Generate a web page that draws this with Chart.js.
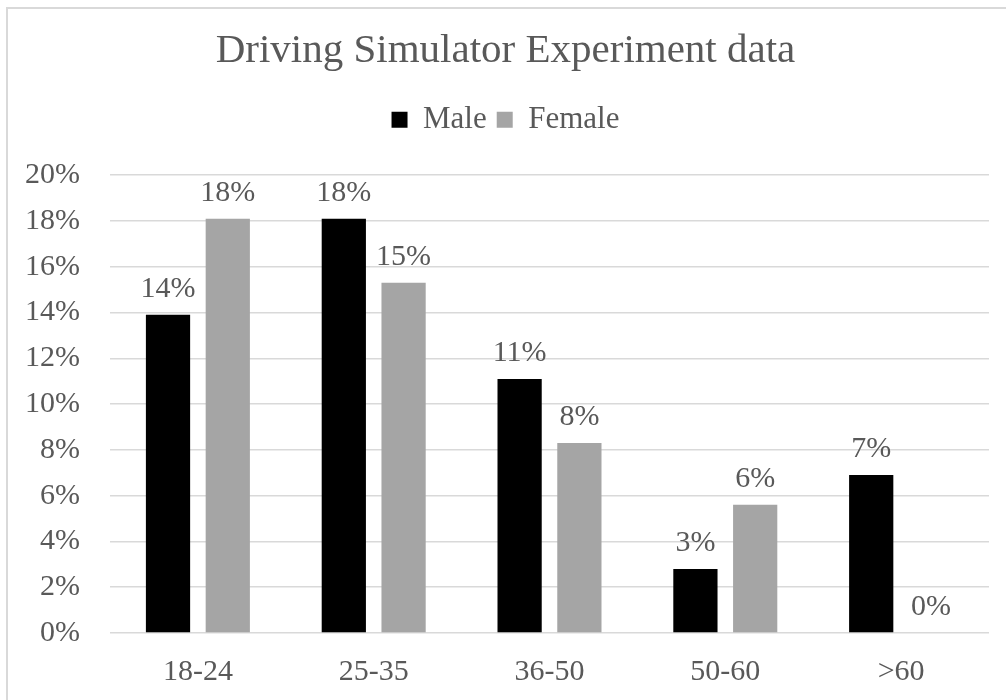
<!DOCTYPE html>
<html>
<head>
<meta charset="utf-8">
<title>Driving Simulator Experiment data</title>
<script src="https://cdn.jsdelivr.net/npm/chart.js@4.4.0/dist/chart.umd.min.js"></script>
<style>
  html, body { margin: 0; padding: 0; background: #fff; overflow: hidden; }
  #frame {
    position: absolute;
    left: 6px;
    top: 7px;
    width: 1004px;
    height: 691px;
    border: 2px solid #d9d9d9;
  }
</style>
</head>
<body>
<div id="frame"><canvas id="ageChart"></canvas></div>
<script>
// share of participants per age group, in percent
const ageGroups = ['18-24', '25-35', '36-50', '50-60', '>60'];
const malePct = [13.9, 18.1, 11.1, 2.8, 6.9];
const femalePct = [18.1, 15.3, 8.3, 5.6, 0];
const yMax = 20;
const yStep = 2;

const textGray = '#595959';
const gridGray = '#d9d9d9';
const serif = "'Liberation Serif', 'Times New Roman', serif";

Chart.defaults.font.family = serif;
Chart.defaults.color = textGray;

// writes the rounded percentage above each bar
const barValueLabels = {
    id: 'barValueLabels',
    afterDatasetsDraw(chart) {
        const ctx = chart.ctx;
        ctx.save();
        ctx.font = '30px ' + serif;
        ctx.fillStyle = textGray;
        ctx.textAlign = 'center';
        ctx.textBaseline = 'alphabetic';
        chart.data.datasets.forEach((ds, i) => {
            chart.getDatasetMeta(i).data.forEach((bar, j) => {
                ctx.fillText(Math.round(ds.data[j]) + '%', bar.x, bar.y - 18);
            });
        });
        ctx.restore();
    }
};

new Chart(document.getElementById('ageChart'), {
    type: 'bar',
    data: {
        labels: ageGroups,
        datasets: [
            { label: 'Male', data: malePct, backgroundColor: '#000000' },
            { label: 'Female', data: femalePct, backgroundColor: '#a5a5a5' }
        ]
    },
    options: {
        responsive: true,
        maintainAspectRatio: false,
        animation: false,
        layout: { padding: { left: 14, right: 23, top: 0, bottom: 0 } },
        datasets: {
            bar: { categoryPercentage: 0.68, barPercentage: 0.74, borderWidth: 0 }
        },
        plugins: {
            title: {
                display: true,
                text: 'Driving Simulator Experiment data',
                color: textGray,
                font: { size: 41, weight: 'normal', lineHeight: 1.2 },
                padding: { top: 18, bottom: 18 }
            },
            // empty spacer between the legend and the plot
            subtitle: {
                display: true,
                text: '',
                weight: 500,
                font: { size: 1, lineHeight: 1 },
                padding: { top: 29, bottom: 0 }
            },
            legend: {
                position: 'top',
                labels: {
                    boxWidth: 16,
                    boxHeight: 16,
                    padding: 10,
                    color: textGray,
                    font: { size: 31 }
                }
            },
            tooltip: { enabled: false }
        },
        scales: {
            x: {
                grid: { display: false, drawTicks: false },
                border: { display: false },
                ticks: { padding: 21, font: { size: 30 }, color: textGray },
                afterFit(scale) { scale.height = 67; }
            },
            y: {
                min: 0,
                max: yMax,
                grid: { color: gridGray, lineWidth: 1.5, drawTicks: false },
                border: { display: false },
                ticks: {
                    stepSize: yStep,
                    padding: 30,
                    font: { size: 30 },
                    color: textGray,
                    callback: v => v + '%'
                },
                afterFit(scale) { scale.width = 88; }
            }
        }
    },
    plugins: [barValueLabels]
});
</script>
</body>
</html>
